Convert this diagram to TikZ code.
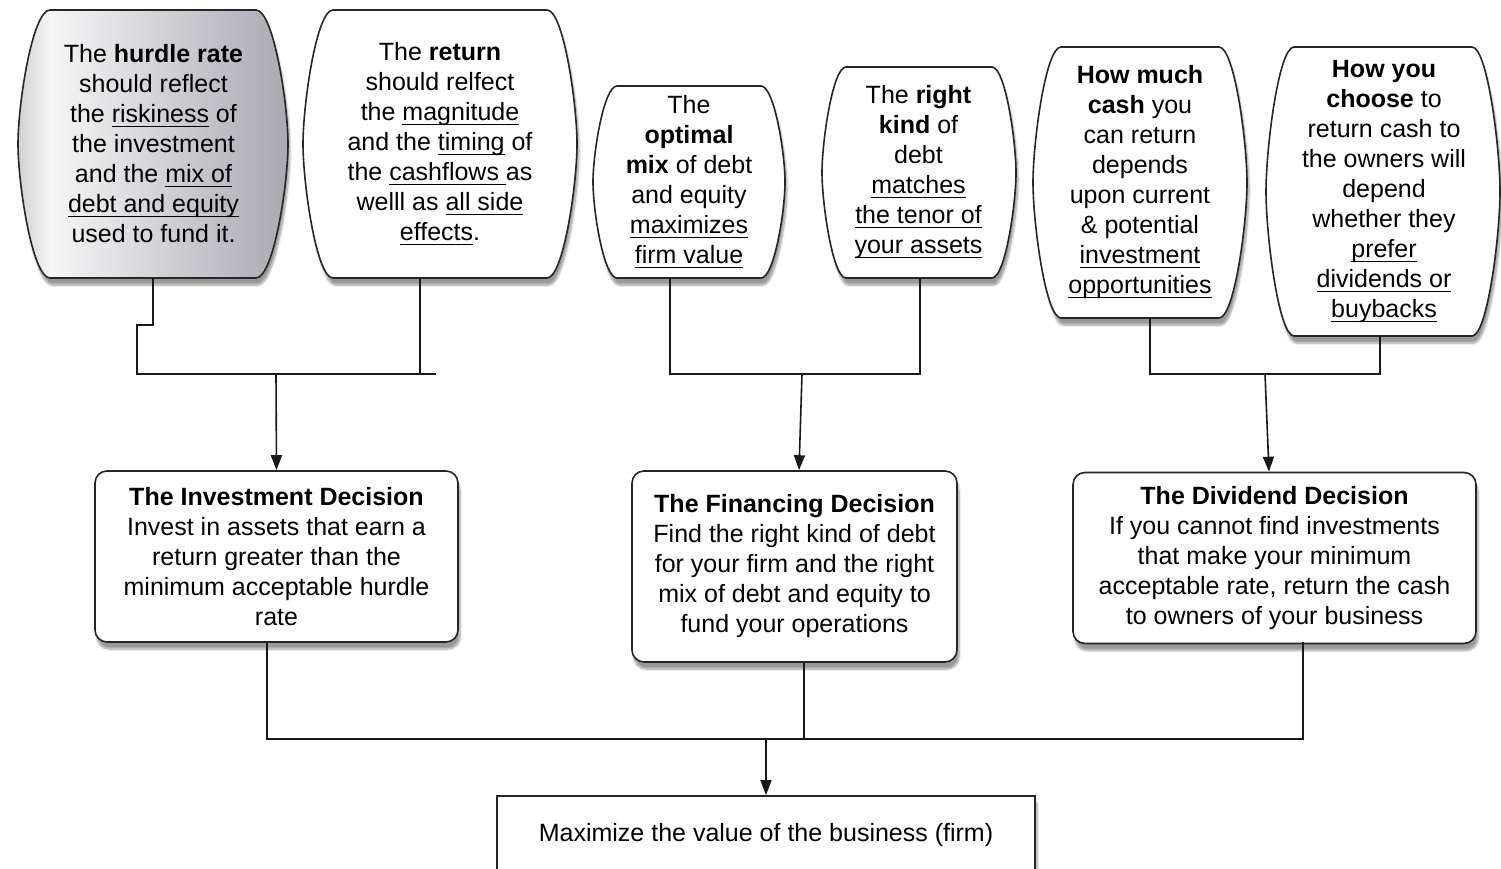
\documentclass[tikz,border=0pt]{standalone}
\usepackage{fontspec}
\setmainfont{Liberation Sans}
\usetikzlibrary{arrows.meta,shadows.blur}

\newcommand\ulx[1]{\setbox0\hbox{#1}\rlap{\rule[-4.5pt]{\wd0}{1.4pt}}\box0\relax}

\definecolor{hlft}{RGB}{208,208,211}
\definecolor{hwht}{RGB}{246,246,247}
\definecolor{hrgt}{RGB}{170,168,177}
\pgfdeclarehorizontalshading{hurdleshade}{100bp}{color(0bp)=(hlft); color(25bp)=(hlft); color(31bp)=(hwht); color(75bp)=(hrgt); color(100bp)=(hrgt)}

\tikzset{
  txt/.style={align=center, font=\fontsize{25}{30}\selectfont, inner sep=0pt, text=black},
  bub/.style={txt},
  shad/.style={blur shadow={shadow xshift=2pt, shadow yshift=-7pt, shadow blur steps=8, shadow opacity=40}},
  bubline/.style={draw=black!85, line width=1.6pt, fill=white, shad},
  dbox/.style={txt, draw=black!85, line width=1.6pt, rounded corners=12pt, fill=white, shad},
  conn/.style={line width=1.6pt, draw=black!90},
  arr/.style={conn, -{Triangle[length=15pt,width=11pt]}},
}

% L, T, R, B, corner inset a, side control offset v, style
\newcommand\barrelxy[7]{%
  \draw[#7] ({#1+#5},#2) -- ({#3-#5},#2)
    .. controls ({#3-0.45*#5},#2) and (#3,{#2+#6}) .. (#3,{(#2+#4)/2})
    .. controls (#3,{#4-#6}) and ({#3-0.45*#5},#4) .. ({#3-#5},#4)
    -- ({#1+#5},#4)
    .. controls ({#1+0.45*#5},#4) and (#1,{#4-#6}) .. (#1,{(#2+#4)/2})
    .. controls (#1,{#2+#6}) and ({#1+0.45*#5},#2) .. cycle;}

\begin{document}
\begin{tikzpicture}[x=1pt,y=-1pt]
\useasboundingbox (0,0) rectangle (1501,869);

% bubble outlines
\barrelxy{18}{10}{288}{278}{32}{94}{bubline, shading=hurdleshade}
\barrelxy{303}{10}{577}{278}{30}{94}{bubline}
\barrelxy{593}{86}{785}{278}{24}{67}{bubline}
\barrelxy{822}{67}{1016}{278}{24}{74}{bubline}
\barrelxy{1033}{47}{1247}{318}{28}{95}{bubline}
\barrelxy{1266}{47}{1500}{336}{28}{101}{bubline}

% bubble texts
\node[bub] (hr) at (153.5,144)
  {The \textbf{hurdle rate}\\ should reflect\\ the \ulx{riskiness} of\\ the investment\\ and the \ulx{mix of}\\ \ulx{debt and equity}\\ used to fund it.};
\node[bub] (ret) at (440,144)
  {The \textbf{return}\\ should relfect\\ the \ulx{magnitude}\\ and the \ulx{timing} of\\ the \ulx{cashflows\ }as\\ welll as \ulx{all side}\\ \ulx{effects}.};
\node[bub] (opt) at (689,182)
  {The\\ \textbf{optimal}\\ \textbf{mix} of debt\\ and equity\\ \ulx{maximizes}\\ \ulx{firm value}};
\node[bub] (rk) at (918.5,172.5)
  {The \textbf{right}\\ \textbf{kind} of\\ debt\\ \ulx{matches}\\ \ulx{the tenor of}\\ \ulx{your assets}};
\node[bub] (cash) at (1140,182.5)
  {\textbf{How much}\\ \textbf{cash} you\\ can return\\ depends\\ upon current\\ \& potential\\ \ulx{investment}\\ \ulx{opportunities}};
\node[bub] (ch) at (1384,191.5)
  {\textbf{How you}\\ \textbf{choose} to\\ return cash to\\ the owners will\\ depend\\ whether they\\ \ulx{prefer}\\ \ulx{dividends or}\\ \ulx{buybacks}};

% decision boxes
\node[dbox, minimum width=363pt, minimum height=171pt] (inv) at (276.5,556.5)
  {\textbf{The Investment Decision}\\ Invest in assets that earn a\\ return greater than the\\ minimum acceptable hurdle\\ rate};
\node[dbox, minimum width=325pt, minimum height=191pt] (fin) at (794.5,566.5)
  {\textbf{The Financing Decision}\\ Find the right kind of debt\\ for your firm and the right\\ mix of debt and equity to\\ fund your operations};
\node[dbox, minimum width=403pt, minimum height=171pt] (div) at (1274.5,558)
  {\textbf{The Dividend Decision}\\ If you cannot find investments\\ that make your minimum\\ acceptable rate, return the cash\\ to owners of your business};
\node[txt, draw=black!85, line width=1.6pt, fill=white, shad, minimum width=538pt, minimum height=78pt] (goal) at (766,835)
  {Maximize the value of the business (firm)};

% connectors to investment
\draw[conn] (153,278) -- ++(0,47) -- ++(-16,0) -- (137,374) -- (436,374);
\draw[conn] (420,278) -- (420,374);
\coordinate (j1) at (276,374);
\draw[arr] (j1) -- (inv.north);

% connectors to financing
\draw[conn] (670,278) -- (670,374) -- (920,374) -- (920,278);
\coordinate (j2) at (802,374);
\draw[arr] (j2) -- ([xshift=4.5pt]fin.north);

% connectors to dividend
\draw[conn] (1150,318) -- (1150,374) -- (1380,374) -- (1380,336);
\coordinate (j3) at (1265,374);
\draw[arr] (j3) -- ([xshift=-5.5pt]div.north);

% lower connectors
\draw[conn] ([xshift=-9.5pt]inv.south) -- (267,739) -- (1303,739) -- (1303,642);
\draw[conn] ([xshift=9.5pt]fin.south) -- (804,739);
\coordinate (j4) at (766,739);
\draw[arr] (j4) -- (goal.north);
\end{tikzpicture}
\end{document}
